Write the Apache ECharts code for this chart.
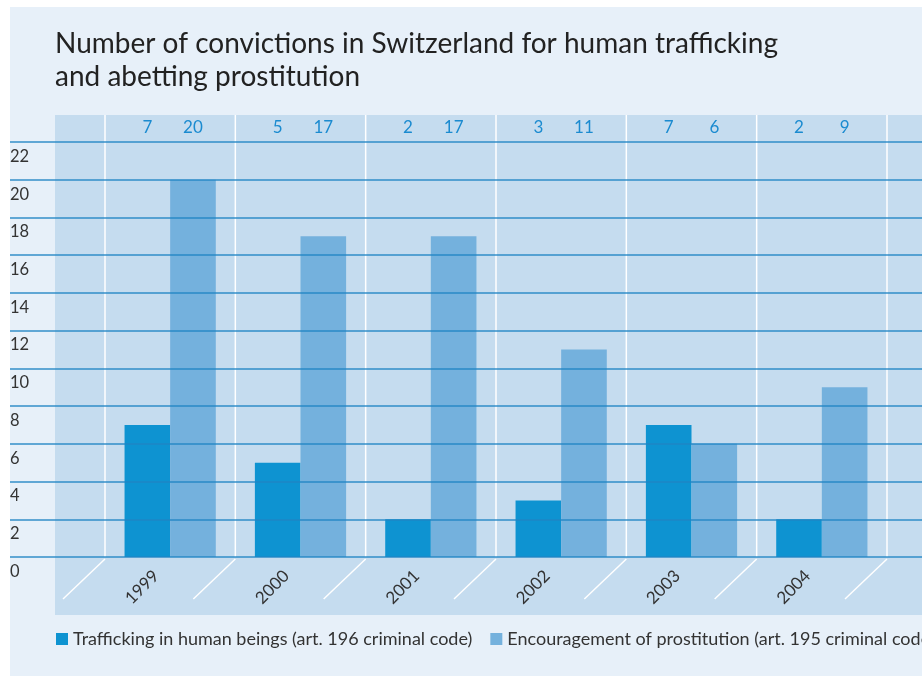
<!DOCTYPE html>
<html>
<head>
<meta charset="utf-8">
<script src="https://cdn.jsdelivr.net/npm/echarts@6/dist/echarts.min.js"></script>
<style>html,body{margin:0;padding:0;background:#fff;}#c{width:922px;height:676px;}</style>
</head>
<body>
<div id="c"></div>
<script>
const titleText = 'Number of convictions in Switzerland for human trafficking\nand abetting prostitution';
const categories = ['1999', '2000', '2001', '2002', '2003', '2004'];
const seriesNames = ['Trafficking in human beings (art. 196 criminal code)', 'Encouragement of prostitution (art. 195 criminal code)'];
const trafficking = [7, 5, 2, 3, 7, 2];
const prostitution = [20, 17, 17, 11, 6, 9];
const yMin = 0, yMax = 22, yStep = 2;

const FONT = 'Lato';
const DARK = '#0e93d1', LIGHT = '#74b1dd';
const chart = echarts.init(document.getElementById('c'), null, {renderer: 'canvas'});

function renderDeco(params, api) {
  const i = api.value(0);
  const base = api.coord([i, yMin]);
  const top = api.coord([i, yMax]);
  const bw = api.size([1, 0])[0];
  const left = base[0] - bw / 2;
  const children = [];
  const bounds = [left];
  if (i === categories.length - 1) bounds.push(left + bw);
  bounds.forEach(function (bx) {
    children.push({type: 'line', shape: {x1: bx, y1: base[1], x2: bx, y2: top[1] - 27}, style: {stroke: '#ffffff', lineWidth: 1.5}});
    children.push({type: 'line', shape: {x1: bx, y1: base[1] + 2, x2: bx - 42, y2: base[1] + 42}, style: {stroke: '#ffffff', lineWidth: 1.5}});
  });
  [[trafficking[i], -0.175], [prostitution[i], 0.175]].forEach(function (p) {
    children.push({type: 'text', style: {text: String(p[0]), x: base[0] + p[1] * bw, y: top[1] - 14, align: 'center', verticalAlign: 'middle', fill: '#1b8bd0', fontSize: 17, fontFamily: FONT}});
  });
  return {type: 'group', children: children};
}

chart.setOption({
  animation: false,
  textStyle: {fontFamily: FONT},
  title: {text: titleText, left: 50, top: 22, textStyle: {fontSize: 28, fontWeight: 'normal', color: '#222', lineHeight: 33, fontFamily: FONT}},
  graphic: {elements: [
    {type: 'rect', z: -20, shape: {x: 10, y: 7, width: 912, height: 669}, style: {fill: '#e7f0f9'}},
    {type: 'rect', z: -19, shape: {x: 55, y: 115, width: 867, height: 500}, style: {fill: '#c5dcef'}}
  ]},
  legend: {
    data: seriesNames, left: 51, top: 625, width: 1400, itemWidth: 12, itemHeight: 12, itemGap: 18, icon: 'rect',
    textStyle: {fontSize: 18, color: '#333', fontFamily: FONT}
  },
  grid: [
    {left: 10, right: 0, top: 142, bottom: 119},
    {left: 105, right: 35, top: 142, bottom: 119}
  ],
  xAxis: [
    {gridIndex: 0, type: 'value', min: 0, max: 1, show: false},
    {gridIndex: 1, type: 'category', data: categories,
     axisLine: {show: false}, axisTick: {show: false}, splitLine: {show: false},
     axisLabel: {rotate: 45, margin: 2, padding: [0, 20, 0, 0], fontSize: 17, color: '#333', fontFamily: FONT}}
  ],
  yAxis: [
    {gridIndex: 0, type: 'value', min: yMin, max: yMax, interval: yStep, z: 5,
     axisLine: {show: false}, axisTick: {show: false},
     axisLabel: {inside: true, margin: 0, verticalAlign: 'top', padding: [6, 0, 0, 0], fontSize: 16.5, color: '#333', fontFamily: FONT},
     splitLine: {show: true, lineStyle: {color: '#1f84c4', width: 1.5, opacity: 0.9}}},
    {gridIndex: 1, type: 'value', min: yMin, max: yMax, interval: yStep, show: false}
  ],
  series: [
    {name: seriesNames[0], type: 'bar', xAxisIndex: 1, yAxisIndex: 1, data: trafficking, barGap: '0%', barCategoryGap: '30%', itemStyle: {color: DARK}},
    {name: seriesNames[1], type: 'bar', xAxisIndex: 1, yAxisIndex: 1, data: prostitution, barGap: '0%', barCategoryGap: '30%', itemStyle: {color: LIGHT}},
    {type: 'custom', xAxisIndex: 1, yAxisIndex: 1, z: 1, clip: false, silent: true,
     data: categories.map(function (c, i) { return [i]; }), encode: {x: 0}, renderItem: renderDeco}
  ]
});
</script>
</body>
</html>
